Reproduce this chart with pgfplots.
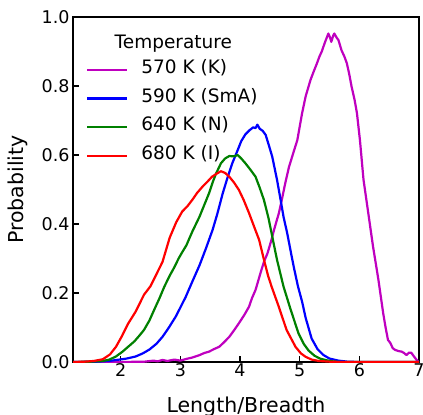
\documentclass[border=0pt]{standalone}
\usepackage{fontspec}
\setmainfont{DejaVu Sans}
\usepackage{pgfplots}
\pgfplotsset{compat=1.18}

\definecolor{mplm}{rgb}{0.75,0,0.75}
\definecolor{mplg}{rgb}{0,0.5,0}

\begin{document}
\begin{tikzpicture}
\begin{axis}[
  name=ax,
  scale only axis,
  width=346pt, height=345pt,
  xmin=1.2, xmax=7, ymin=0, ymax=1,
  xtick={2,3,4,5,6,7},
  ytick={0,0.2,0.4,0.6,0.8,1.0},
  yticklabel style={/pgf/number format/.cd, fixed, fixed zerofill, precision=1},
  xticklabel style={yshift=2pt},
  /pgf/number format/assume math mode=true,
  tick pos=left,
  tick align=inside,
  major tick length=6pt,
  tick style={line width=1.2pt, black},
  axis line style={line width=1.2pt},
  tick label style={font=\fontsize{17.5}{21}\selectfont},
  label style={font=\fontsize{20.5}{24}\selectfont},
  xlabel={Length/Breadth},
  ylabel={Probability},
  xlabel style={at={([yshift=-50pt]rel axis cs:0.5,0)}, anchor=base},
  ylabel style={at={([xshift=-49pt]rel axis cs:0,0.5)}, anchor=base},
  legend cell align=left,
  legend style={draw=none, fill=none, at={(rel axis cs:0.029,0.892)}, anchor=north west,
    font=\fontsize{18.5}{22}\selectfont, row sep=1.9pt,
    nodes={inner sep=2pt, text height=15pt, text depth=7.7pt},
    /tikz/every odd column/.append style={column sep=11pt}},
  legend image code/.code={\draw[#1] (0pt,0pt) -- (40pt,0pt);},
  every axis plot/.append style={line width=2.2pt, line join=round},
]
\addplot[mplm] coordinates {
(1.2,0)(2.0,0)(2.4,0.001)(2.55,0.004)(2.62,0.002)(2.7,0.006)(2.78,0.003)(2.9,0.007)(3.0,0.004)(3.1,0.009)(3.2,0.013)(3.32,0.02)(3.4,0.026)(3.48,0.03)(3.57,0.038)(3.65,0.044)(3.73,0.057)(3.82,0.073)(3.9,0.092)(3.98,0.112)(4.07,0.136)(4.15,0.16)(4.2,0.185)(4.26,0.209)(4.35,0.262)(4.4,0.29)(4.46,0.315)(4.52,0.35)(4.57,0.383)(4.65,0.431)(4.7,0.47)(4.76,0.52)(4.82,0.565)(4.9,0.61)(4.96,0.643)(5.04,0.721)(5.1,0.77)(5.18,0.817)(5.23,0.84)(5.29,0.866)(5.33,0.885)(5.37,0.9)(5.42,0.925)(5.48,0.952)(5.51,0.94)(5.53,0.928)(5.56,0.945)(5.58,0.952)(5.62,0.94)(5.65,0.933)(5.7,0.904)(5.75,0.885)(5.79,0.866)(5.83,0.835)(5.87,0.798)(5.92,0.76)(5.96,0.721)(6.01,0.643)(6.07,0.528)(6.15,0.431)(6.23,0.334)(6.32,0.238)(6.4,0.141)(6.44,0.1)(6.48,0.064)(6.52,0.055)(6.56,0.04)(6.6,0.035)(6.65,0.032)(6.71,0.03)(6.75,0.026)(6.79,0.02)(6.83,0.027)(6.87,0.027)(6.92,0.015)(6.96,0.006)(7,0.0)
};
\addlegendentry{570 K (K)}
\addplot[blue] coordinates {
(1.2,0)(1.6,0.001)(1.8,0.003)(1.98,0.007)(2.1,0.01)(2.25,0.016)(2.37,0.025)(2.48,0.036)(2.6,0.053)(2.7,0.073)(2.8,0.098)(2.92,0.131)(3.0,0.158)(3.09,0.189)(3.2,0.233)(3.32,0.28)(3.43,0.33)(3.54,0.383)(3.62,0.43)(3.71,0.489)(3.8,0.54)(3.87,0.576)(3.96,0.614)(4.02,0.64)(4.09,0.66)(4.16,0.672)(4.22,0.68)(4.26,0.678)(4.29,0.688)(4.33,0.676)(4.38,0.67)(4.43,0.658)(4.48,0.63)(4.54,0.595)(4.62,0.528)(4.68,0.47)(4.73,0.42)(4.79,0.374)(4.85,0.32)(4.9,0.276)(4.97,0.22)(5.04,0.175)(5.1,0.128)(5.2,0.068)(5.3,0.037)(5.4,0.02)(5.5,0.01)(5.65,0.004)(5.8,0.001)(6.0,0)(7,0)
};
\addlegendentry{590 K (SmA)}
\addplot[mplg] coordinates {
(1.2,0)(1.5,0.001)(1.7,0.003)(1.81,0.007)(1.92,0.016)(2.03,0.03)(2.13,0.045)(2.23,0.06)(2.32,0.078)(2.39,0.093)(2.48,0.12)(2.56,0.151)(2.65,0.185)(2.73,0.218)(2.82,0.25)(2.9,0.275)(2.97,0.3)(3.03,0.318)(3.1,0.338)(3.2,0.378)(3.32,0.421)(3.4,0.455)(3.48,0.489)(3.55,0.525)(3.6,0.547)(3.68,0.576)(3.75,0.59)(3.82,0.597)(3.9,0.596)(3.96,0.6)(4.02,0.59)(4.09,0.576)(4.18,0.556)(4.26,0.537)(4.33,0.505)(4.4,0.47)(4.48,0.415)(4.55,0.355)(4.62,0.296)(4.73,0.218)(4.85,0.151)(4.98,0.083)(5.07,0.052)(5.15,0.033)(5.25,0.018)(5.34,0.01)(5.45,0.005)(5.55,0.002)(5.7,0)(7,0)
};
\addlegendentry{640 K (N)}
\addplot[red] coordinates {
(1.2,0)(1.4,0.001)(1.55,0.003)(1.7,0.008)(1.82,0.022)(1.92,0.044)(2.02,0.075)(2.12,0.11)(2.25,0.146)(2.39,0.195)(2.5,0.22)(2.6,0.255)(2.7,0.29)(2.82,0.36)(2.93,0.405)(3.03,0.436)(3.12,0.452)(3.2,0.47)(3.28,0.49)(3.37,0.508)(3.45,0.522)(3.53,0.537)(3.6,0.545)(3.68,0.553)(3.75,0.548)(3.82,0.537)(3.9,0.52)(3.98,0.499)(4.06,0.47)(4.15,0.432)(4.23,0.395)(4.32,0.354)(4.4,0.297)(4.47,0.25)(4.53,0.218)(4.65,0.16)(4.78,0.093)(4.93,0.044)(5.02,0.025)(5.1,0.015)(5.2,0.007)(5.32,0.003)(5.5,0.001)(5.7,0)(7,0)
};
\addlegendentry{680 K (I)}
\node[font=\fontsize{18.5}{22}\selectfont, anchor=base] at (rel axis cs:0.29,0.91) {Temperature};
\end{axis}
\pgfresetboundingbox
\path[use as bounding box] ([xshift=-73pt,yshift=-52pt]ax.south west) rectangle ([xshift=4pt,yshift=17pt]ax.north east);
\end{tikzpicture}
\end{document}
